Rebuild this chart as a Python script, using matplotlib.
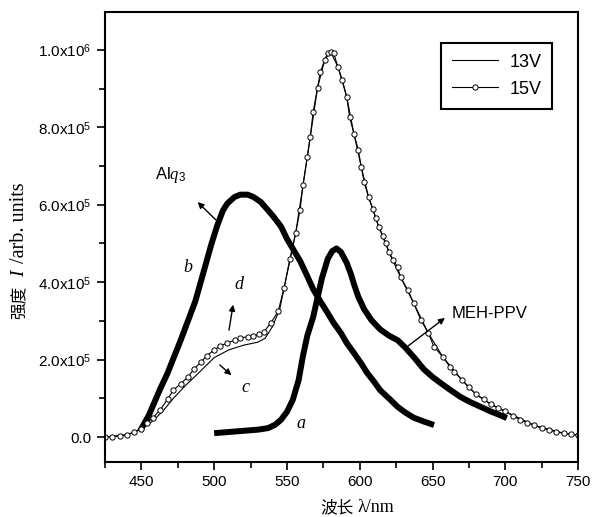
import numpy as np
import matplotlib
matplotlib.use('Agg')
import matplotlib.pyplot as plt

plt.rcParams['font.family'] = ['Liberation Sans', 'Noto Sans CJK SC']
plt.rcParams['mathtext.fontset'] = 'custom'
plt.rcParams['mathtext.rm'] = 'Liberation Sans'
plt.rcParams['mathtext.it'] = 'Liberation Serif:italic'

# 15V spectrum (open circles), intensity in 1e6
wl_15 = [425, 430, 435, 440, 445, 450, 454, 458, 463, 468, 472, 477, 482, 486, 491,
         495, 500, 504, 509, 514, 518, 523, 527, 531, 534, 539, 544, 548, 552, 556,
         559, 561, 564, 566, 568, 571, 573, 576, 578, 580, 582, 585, 588, 591, 593,
         596, 599, 601, 603, 606, 609, 611, 613, 616, 618, 620, 623, 626, 628, 633,
         637, 642, 647, 651, 657, 662, 665, 670, 675, 680, 685, 690, 695, 700, 705,
         710, 715, 720, 725, 730, 735, 740, 745, 750]
i_15 = [0.000, 0.001, 0.003, 0.006, 0.012, 0.022, 0.036, 0.050, 0.070, 0.098, 0.121,
        0.138, 0.155, 0.175, 0.194, 0.210, 0.225, 0.235, 0.243, 0.250, 0.256, 0.259,
        0.261, 0.265, 0.271, 0.295, 0.325, 0.385, 0.460, 0.527, 0.587, 0.650, 0.724,
        0.775, 0.840, 0.902, 0.943, 0.975, 0.992, 0.995, 0.992, 0.956, 0.922, 0.879,
        0.827, 0.783, 0.742, 0.698, 0.659, 0.620, 0.589, 0.566, 0.543, 0.519, 0.501,
        0.478, 0.457, 0.439, 0.413, 0.380, 0.346, 0.302, 0.269, 0.233, 0.207, 0.181,
        0.168, 0.148, 0.128, 0.110, 0.097, 0.085, 0.075, 0.066, 0.055, 0.045, 0.037,
        0.030, 0.023, 0.018, 0.013, 0.010, 0.007, 0.005]

# 13V spectrum (thin line)
wl_13 = [425, 440, 450, 458, 465, 472, 480, 490, 500, 510, 520, 530, 535, 540, 545,
         550, 556, 561, 566, 571, 576, 580, 585, 591, 596, 601, 606, 613, 620, 628,
         637, 647, 657, 670, 680, 690, 700, 720, 740, 750]
i_13 = [0.000, 0.006, 0.020, 0.042, 0.068, 0.100, 0.132, 0.168, 0.205, 0.225, 0.237,
        0.245, 0.255, 0.285, 0.330, 0.420, 0.527, 0.650, 0.775, 0.902, 0.975, 0.995,
        0.956, 0.879, 0.783, 0.698, 0.620, 0.543, 0.478, 0.413, 0.346, 0.269, 0.207,
        0.148, 0.110, 0.085, 0.066, 0.030, 0.010, 0.005]

# curve b: Alq3
wl_b = [449, 455, 463, 468, 472, 477, 482, 487, 493, 498, 502, 506, 509, 514, 518,
        523, 527, 532, 536, 541, 546, 550, 555, 559, 564, 568, 573, 578, 582, 587,
        591, 596, 601, 605, 610, 614, 620, 626, 631, 637, 644, 651]
i_b = [0.015, 0.055, 0.125, 0.165, 0.203, 0.250, 0.300, 0.350, 0.430, 0.497, 0.545,
       0.585, 0.603, 0.620, 0.626, 0.626, 0.620, 0.607, 0.590, 0.568, 0.543, 0.512,
       0.480, 0.455, 0.415, 0.382, 0.350, 0.320, 0.295, 0.269, 0.243, 0.217, 0.190,
       0.166, 0.142, 0.121, 0.100, 0.078, 0.064, 0.050, 0.040, 0.031]

# curve a: MEH-PPV
wl_a = [500, 510, 520, 530, 537, 542, 546, 550, 554, 558, 561, 564, 568, 571, 574,
        578, 581, 584, 587, 591, 594, 596, 599, 603, 608, 614, 620, 626, 631, 637,
        644, 650, 655, 662, 669, 676, 683, 690, 696, 701]
i_a = [0.010, 0.013, 0.016, 0.019, 0.023, 0.032, 0.045, 0.065, 0.096, 0.147, 0.210,
       0.262, 0.310, 0.360, 0.410, 0.460, 0.480, 0.487, 0.478, 0.450, 0.420, 0.395,
       0.362, 0.330, 0.302, 0.278, 0.262, 0.250, 0.232, 0.207, 0.175, 0.155, 0.141,
       0.122, 0.104, 0.090, 0.078, 0.066, 0.057, 0.049]

x_ticks = [450, 500, 550, 600, 650, 700, 750]
y_ticks = [0.0, 0.2, 0.4, 0.6, 0.8, 1.0]
y_labels = ['0.0', '2.0x10$^5$', '4.0x10$^5$', '6.0x10$^5$', '8.0x10$^5$', '1.0x10$^6$']

fig = plt.figure(figsize=(5.93, 5.17), dpi=100)
ax = fig.add_axes([0.177, 0.106, 0.798, 0.871])

ax.plot(wl_b, i_b, '-', color='black', lw=4.3, solid_capstyle='butt')
ax.plot(wl_a, i_a, '-', color='black', lw=4.3, solid_capstyle='butt')
ax.plot(wl_13, i_13, '-', color='black', lw=0.8, label='13V')
ax.plot(wl_15, i_15, '-', color='black', lw=0.8, marker='o', ms=3.8,
        mfc='white', mec='black', mew=0.7, label='15V')

ax.set_xlim(425, 750)
ax.set_ylim(-0.065, 1.098)
ax.set_xticks(x_ticks)
ax.set_xticks(np.arange(425, 751, 25), minor=True)
ax.set_yticks(y_ticks)
ax.set_yticklabels(y_labels)
ax.set_yticks(np.arange(0.1, 1.05, 0.2), minor=True)
ax.tick_params(which='major', direction='out', length=6, width=1.2, labelsize=11)
ax.tick_params(which='minor', direction='out', length=4, width=1.2)
for s in ax.spines.values():
    s.set_linewidth(1.5)

leg = ax.legend(loc='upper right', bbox_to_anchor=(0.945, 0.931), borderaxespad=0,
                fontsize=13, fancybox=False, edgecolor='black', handlelength=2.6,
                labelspacing=0.55, borderpad=0.6, handletextpad=0.6, framealpha=1)
leg.get_frame().set_linewidth(1.5)

# axis labels
fig.text(320 / 593, 1 - 508 / 517, '波长', fontsize=12, family='Noto Sans CJK SC',
         ha='left', va='center')
fig.text(357 / 593, 1 - 507 / 517, 'λ/nm', fontsize=13, family='Liberation Serif',
         ha='left', va='center')
fig.text(20 / 593, 1 - 302 / 517, '强度', fontsize=12, family='Noto Sans CJK SC',
         rotation=90, ha='center', va='center')
fig.text(20 / 593, 1 - 274 / 517, 'I', fontsize=14, family='Liberation Serif',
         style='italic', rotation=90, ha='center', va='center')
fig.text(20 / 593, 1 - 223 / 517, '/arb. units', fontsize=14.5, family='Liberation Serif',
         rotation=90, ha='center', va='center')

# curve annotations
lab = dict(fontsize=13, family='Liberation Serif', style='italic', ha='center', va='center')
ax.text(481.8, 0.437, 'b', **lab)
ax.text(516.8, 0.393, 'd', **lab)
ax.text(521.6, 0.129, 'c', **lab)
ax.text(559.3, 0.034, 'a', **lab)
ax.text(470, 0.677, r'Al$\mathit{q}_3$', fontsize=12, ha='center', va='center')
ax.text(663, 0.320, 'MEH-PPV', fontsize=12, ha='left', va='center')

arr = dict(arrowstyle='-|>', color='black', lw=1, mutation_scale=9)
ax.annotate('', xy=(487.3, 0.612), xytext=(502.4, 0.556), arrowprops=arr)
ax.annotate('', xy=(513.3, 0.349), xytext=(509.9, 0.269), arrowprops=arr)
ax.annotate('', xy=(513.3, 0.155), xytext=(502.4, 0.191), arrowprops=arr)
ax.annotate('', xy=(660, 0.312), xytext=(631.4, 0.230), arrowprops=arr)

fig.savefig('out.png', dpi=100)
